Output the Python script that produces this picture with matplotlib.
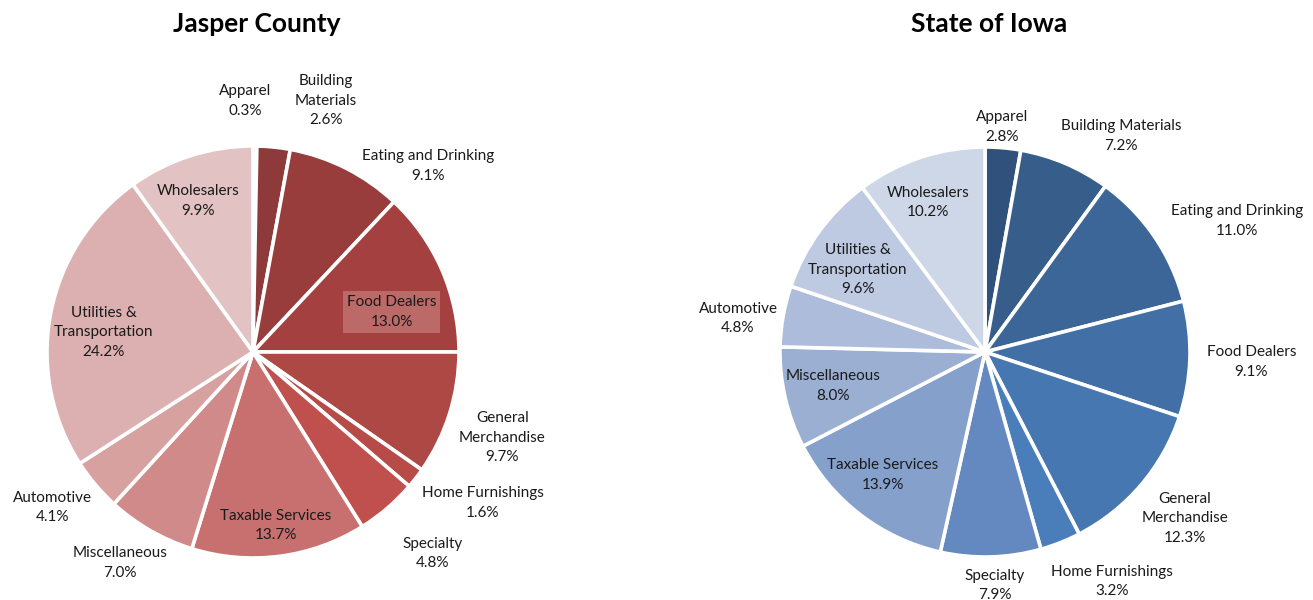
import numpy as np
import matplotlib
matplotlib.use('Agg')
import matplotlib.pyplot as plt

plt.rcParams['font.family'] = ['Lato', 'DejaVu Sans']

# Categories, clockwise from 12 o'clock
categories = ['Apparel', 'Building\nMaterials', 'Eating and Drinking', 'Food Dealers',
              'General\nMerchandise', 'Home Furnishings', 'Specialty', 'Taxable Services',
              'Miscellaneous', 'Automotive', 'Utilities &\nTransportation', 'Wholesalers']
categories_iowa = ['Apparel', 'Building Materials', 'Eating and Drinking', 'Food Dealers',
                   'General\nMerchandise', 'Home Furnishings', 'Specialty', 'Taxable Services',
                   'Miscellaneous', 'Automotive', 'Utilities &\nTransportation', 'Wholesalers']

# Share of sales (%)
jasper_values = [0.3, 2.6, 9.1, 13.0, 9.7, 1.6, 4.8, 13.7, 7.0, 4.1, 24.2, 9.9]
iowa_values = [2.8, 7.2, 11.0, 9.1, 12.3, 3.2, 7.9, 13.9, 8.0, 4.8, 9.6, 10.2]

# Colours
jasper_colors = ['#8C3636', '#8E3A3A', '#983C3C', '#A44140', '#AD4845', '#B64B48',
                 '#C0504D', '#C87070', '#D08A89', '#D7A1A0', '#DCB0B0', '#E2C2C2']
iowa_colors = ['#2F517B', '#375D8A', '#3D6698', '#416FA6', '#4677B0', '#4A7EBB',
               '#6489C0', '#84A0CB', '#9AAFD2', '#ACBCDA', '#BDCAE2', '#CED7E8']

# label placement: distance (in radii) and angle nudge (deg) from the wedge middle
jasper_lbl_dist = [1.22, 1.27, 1.24, 0.70, 1.28, 1.335, 1.31, 0.85, 1.21, 1.23, 0.73, 0.78]
jasper_lbl_nudge = [2.3, -10.4, -16.5, -7.3, -1.5, 4.5, 1.0, 0.0, -2.3, -2.3, 3.2, 2.3]
iowa_lbl_dist = [1.10, 1.245, 1.385, 1.30, 1.268, 1.28, 1.14, 0.78, 0.76, 1.216, 0.74, 0.78]
iowa_lbl_nudge = [0.7, -9.2, -6.7, -0.2, 0.8, 7.3, 0.8, -2.1, -0.4, 2.3, 3.1, 2.5]

W, H = 1313, 600
fig = plt.figure(figsize=(W / 100, H / 100), dpi=100)


def draw_pie(cx, cy, r, values, colors, labels, dists, nudges, title, highlight=None):
    ax = fig.add_axes([(cx - r) / W, (H - cy - r) / H, 2 * r / W, 2 * r / H])
    wedges, _ = ax.pie(values, colors=colors, startangle=90, counterclock=False,
                       wedgeprops=dict(edgecolor='white', linewidth=2.6))
    ax.set_xlim(-1, 1)
    ax.set_ylim(-1, 1)
    ax.axis('off')
    for i, w in enumerate(wedges):
        ang = np.deg2rad((w.theta1 + w.theta2) / 2 + nudges[i])
        x = dists[i] * np.cos(ang)
        y = dists[i] * np.sin(ang)
        txt = labels[i] + '\n' + '%.1f%%' % values[i]
        kw = {}
        if highlight == i:
            kw['bbox'] = dict(boxstyle='square,pad=0.25', facecolor='#BC6A68',
                              edgecolor='none')
        ax.text(x, y, txt, ha='center', va='center', fontsize=11, color='#1a1a1a',
                linespacing=1.5, clip_on=False, **kw)
    fig.text((cx + 4) / W, 1 - 24 / H, title, ha='center', va='center',
             fontsize=19, fontweight='bold', color='black')


draw_pie(253, 352, 206, jasper_values, jasper_colors, categories,
         jasper_lbl_dist, jasper_lbl_nudge, 'Jasper County', highlight=3)
draw_pie(985, 352, 205, iowa_values, iowa_colors, categories_iowa,
         iowa_lbl_dist, iowa_lbl_nudge, 'State of Iowa')

fig.savefig('out.png', dpi=100)
